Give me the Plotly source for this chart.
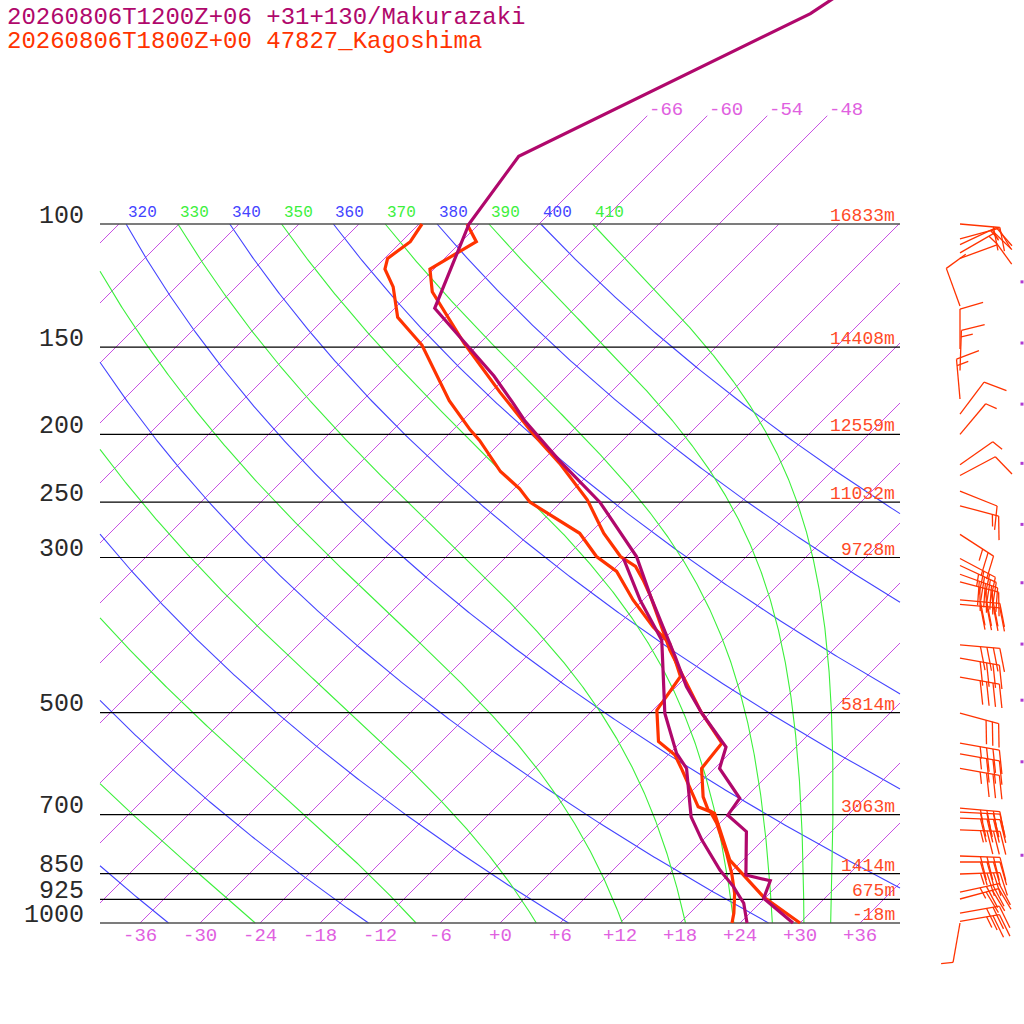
import numpy as np
import plotly.graph_objects as go

TITLE_MODEL = "20260806T1200Z+06 +31+130/Makurazaki"
TITLE_SONDE = "20260806T1800Z+00 47827_Kagoshima"

# standard levels and Kagoshima geopotential heights
STD_P = [100, 150, 200, 250, 300, 500, 700, 850, 925, 1000]
STD_Z = ["16833m", "14408m", "12559m", "11032m", "9728m", "5814m", "3063m", "1414m", "675m", "-18m"]

TEMP_TICKS = list(range(-36, 37, 6))
ISOTHERMS = list(range(-108, 37, 6))
TALL_ISOTHERMS = [-66, -60, -54, -48]      # these go on up to 70 hPa, with a label
DRY_THETA = list(range(240, 401, 20))      # blue
MOIST_THETA = list(range(250, 411, 20))    # green (pseudo adiabats)
THETA_LABELS = list(range(320, 411, 10))

# model profile (purple)
MOD_P = [1000, 922, 870, 854, 740, 701, 663, 601, 560, 501, 459, 416, 341, 299, 250, 218, 191, 180, 165, 145, 132, 100, 80, 50, 30]
MOD_T = [29.3, 23.9, 22.8, 19.8, 15.5, 12.0, 11.5, 6.5, 5.0, -0.8, -5.0, -9.1, -17.6, -23.0, -32.1, -40.3, -47.8, -50.8, -55.3, -62.6, -68.0, -73.0, -74.8, -59.9, -52.0]
MOD_TD_P = [1000, 937, 887, 840, 761, 705, 652, 601, 572, 501, 421, 394, 345, 301]
MOD_TD = [24.7, 22.4, 19.7, 16.7, 11.9, 8.5, 5.9, 3.2, 0.7, -4.5, -10.0, -12.1, -18.3, -24.1]

# radiosonde (orange)
OBS_P = [1000, 917, 813, 728, 697, 689, 660, 601, 553, 499, 407, 341, 323, 309, 299, 277, 248, 220, 200, 191, 174, 148, 136, 125, 116, 106, 100]
OBS_T = [30.0, 23.7, 16.7, 12.2, 10.5, 9.5, 7.7, 4.7, 4.2, -1.0, -10.3, -17.6, -20.0, -22.1, -24.6, -28.6, -33.6, -40.0, -45.5, -48.0, -53.1, -61.6, -65.8, -69.9, -72.4, -70.5, -73.2]
OBS_TD_P = [1000, 968, 907, 849, 795, 720, 693, 682, 604, 575, 550, 496, 444, 398, 377, 345, 314, 299, 277, 250, 239, 226, 204, 197, 179, 149, 136, 123, 116, 112, 106, 100]
OBS_TD = [23.2, 22.4, 20.5, 18.2, 15.7, 11.7, 9.9, 8.2, 2.9, 0.7, -2.3, -5.6, -6.6, -11.0, -14.3, -19.0, -23.5, -27.0, -31.0, -39.1, -41.5, -45.1, -50.3, -52.3, -57.3, -65.6, -70.8, -74.3, -76.9, -77.7, -77.1, -77.7]

# radiosonde winds (knots)
WIND_P = [100, 105, 107, 110, 112, 131, 151, 162, 178, 187, 200, 221, 229, 241, 253, 278, 301, 308, 317, 325,
          345, 350, 400, 418, 445, 501, 553, 573, 601, 685, 694, 708, 736, 802, 818, 851, 903, 924, 968, 995, 1000]
WIND_DIR = [95, 75, 65, 60, 70, 340, 0, 2, 355, 37, 40, 55, 62, 112, 105, 123, 118, 115, 110, 105,
            95, 95, 95, 100, 100, 105, 100, 100, 100, 95, 93, 92, 92, 92, 90, 88, 78, 75, 80, 80, 190]
WIND_KT = [20, 15, 15, 15, 10, 10, 10, 15, 15, 10, 5, 5, 10, 10, 15, 25, 30, 35, 40, 40,
           40, 40, 40, 40, 40, 30, 35, 35, 35, 35, 40, 40, 35, 40, 40, 35, 35, 30, 30, 25, 5]

# model wind levels, only their roots show at the right edge
MOD_WIND_P = [121, 148, 181, 220, 269, 326, 399, 480, 588, 800]

# page geometry: 10 px per degC, 699 px per decade of pressure
PX_DEG = 10.0
PX_DEC = 699.0
X0_PX = 500.0
Y1000_PX = 923.0
SKEW = PX_DEC / PX_DEG
X_LEFT, X_RIGHT = -40.0, 40.0
W = H = 1024

FONT = "Liberation Mono"
PURPLE = "#b0086c"
ORANGE = "#ff3300"
ORANGE_TXT = "#ff4a26"
ISO_COL = "#c850e4"
ISO_TXT = "#e060e0"
BLUE = "#4444ff"
GREEN = "#3cf03c"

RD, CP, LV, EPS = 287.04, 1005.7, 2.501e6, 0.622
KAPPA = RD / CP


def skew_x(t, p):
    return np.asarray(t, float) + SKEW * np.log10(1000.0 / np.asarray(p, float))


def clip_line(xs, ps, lo=X_LEFT, hi=X_RIGHT):
    """Liang-Barsky style clip of a polyline to lo <= x <= hi (in log p)."""
    ls = np.log10(ps)
    out_x, out_p = [], []
    last = None
    for i in range(len(xs) - 1):
        x1, x2, l1, l2 = xs[i], xs[i + 1], ls[i], ls[i + 1]
        t0, t1 = 0.0, 1.0
        dx = x2 - x1
        if dx == 0:
            if x1 < lo or x1 > hi:
                continue
        else:
            ta, tb = (lo - x1) / dx, (hi - x1) / dx
            t0, t1 = max(t0, min(ta, tb)), min(t1, max(ta, tb))
            if t0 >= t1:
                continue
        a = (x1 + t0 * dx, 10 ** (l1 + t0 * (l2 - l1)))
        b = (x1 + t1 * dx, 10 ** (l1 + t1 * (l2 - l1)))
        if last is None or abs(last[0] - a[0]) > 1e-9 or abs(last[1] - a[1]) > 1e-9:
            if out_x:
                out_x.append(None)
                out_p.append(None)
            out_x.append(a[0])
            out_p.append(a[1])
        out_x.append(b[0])
        out_p.append(b[1])
        last = b
    if out_x:
        out_x.append(None)
        out_p.append(None)
    return out_x, out_p


def moist_rate(t_k, p):
    es = 6.112 * np.exp(17.67 * (t_k - 273.15) / (t_k - 29.65))
    rs = EPS * es / (p - es)
    return (RD * t_k + LV * rs) / (CP + LV * LV * rs * EPS / (RD * t_k * t_k))


def pseudo_adiabat(theta, levels):
    t = theta * (levels[0] / 1000.0) ** KAPPA
    out = [t]
    for p1, p2 in zip(levels[:-1], levels[1:]):
        h = np.log(p2) - np.log(p1)
        pm = np.exp(np.log(p1) + h / 2)
        k1 = moist_rate(t, p1)
        k2 = moist_rate(t + h / 2 * k1, pm)
        k3 = moist_rate(t + h / 2 * k2, pm)
        k4 = moist_rate(t + h * k3, p2)
        t = t + h / 6 * (k1 + 2 * k2 + 2 * k3 + k4)
        out.append(t)
    return np.array(out) - 273.15


def px_to_data(px, py_off, p_ref):
    # px: absolute page x, py_off: page-y offset (down is positive) from the level p_ref
    return (px - X0_PX) / PX_DEG, p_ref * 10 ** (py_off / PX_DEC)


def barb(p, wdir, kt, base_px=960.0, staff=40.0, gap=6.5, full=24.0):
    d = np.deg2rad(wdir)
    u = np.array([np.sin(d), -np.cos(d)])      # towards where the wind comes from (page coords)
    v = np.array([np.cos(d), np.sin(d)])       # feather side
    tilt = np.deg2rad(16)
    f = np.cos(tilt) * v + np.sin(tilt) * u
    segs = [(np.zeros(2), u * staff)]
    spd = int(round(kt / 5.0)) * 5
    n50, rem = divmod(spd, 50)
    n10, rem = divmod(rem, 10)
    n5 = rem // 5
    pos = staff
    for _ in range(n50):
        a = u * pos
        b = u * (pos - gap)
        segs += [(a, a + f * full), (a + f * full, b)]
        pos -= gap * 1.5
    for _ in range(n10):
        a = u * pos
        segs.append((a, a + f * full))
        pos -= gap
    for _ in range(n5):
        a = u * pos
        segs.append((a, a + f * full * 0.5))
    xs, ps = [], []
    for a, b in segs:
        for pt in (a, b):
            xx, pp = px_to_data(base_px + pt[0], pt[1], p)
            xs.append(xx)
            ps.append(pp)
        xs.append(None)
        ps.append(None)
    return xs, ps


fig = go.Figure()

# isotherms
iso_x, iso_p = [], []
for t in ISOTHERMS:
    p_top = 70.0 if t in TALL_ISOTHERMS else 100.0
    ps = np.array([1000.0, p_top])
    cx, cp = clip_line(skew_x([t, t], ps), ps)
    iso_x += cx
    iso_p += cp
fig.add_trace(go.Scatter(x=iso_x, y=iso_p, mode="lines", line=dict(color=ISO_COL, width=1)))

levels = np.logspace(2, 3, 500)
for theta in DRY_THETA:
    tc = theta * (levels / 1000.0) ** KAPPA - 273.15
    cx, cp = clip_line(skew_x(tc, levels), levels)
    fig.add_trace(go.Scatter(x=cx, y=cp, mode="lines", line=dict(color=BLUE, width=1.1)))
for theta in MOIST_THETA:
    tc = pseudo_adiabat(theta, levels)
    cx, cp = clip_line(skew_x(tc, levels), levels)
    fig.add_trace(go.Scatter(x=cx, y=cp, mode="lines", line=dict(color=GREEN, width=1.1)))

# pressure lines
for p in STD_P:
    edge = p in (100, 1000)
    fig.add_trace(go.Scatter(x=[X_LEFT, X_RIGHT], y=[p, p], mode="lines",
                             line=dict(color="#505050" if edge else "black", width=1.6 if edge else 1.2)))

# profiles
for pp, tt, col in [(OBS_TD_P, OBS_TD, ORANGE), (OBS_P, OBS_T, ORANGE),
                    (MOD_TD_P, MOD_TD, PURPLE), (MOD_P, MOD_T, PURPLE)]:
    fig.add_trace(go.Scatter(x=skew_x(tt, pp), y=pp, mode="lines",
                             line=dict(color=col, width=3.2)))

# wind barbs
bx, bp = [], []
for p, d, s in zip(WIND_P, WIND_DIR, WIND_KT):
    xs, ps = barb(p, d, s)
    bx += xs
    bp += ps
fig.add_trace(go.Scatter(x=bx, y=bp, mode="lines", line=dict(color=ORANGE, width=1.3)))

mx = [px_to_data(1022.0, 0, p)[0] for p in MOD_WIND_P]
fig.add_trace(go.Scatter(x=mx, y=MOD_WIND_P, mode="markers",
                         marker=dict(color="#b03ad0", size=3, symbol="square")))


def ly(p, up_px=0.0):
    # log10 position of a label lifted up_px page pixels above level p
    return np.log10(p) - up_px / PX_DEC


ann = []
for p in STD_P:
    ann.append(dict(x=(86 - X0_PX) / PX_DEG, y=ly(p, 8), xref="x", yref="y", text=str(p),
                    xanchor="right", yanchor="middle", showarrow=False,
                    font=dict(family=FONT, size=25, color="#2a2a2a")))
for p, z in zip(STD_P, STD_Z):
    ann.append(dict(x=(897 - X0_PX) / PX_DEG, y=ly(p, 8), xref="x", yref="y", text=z,
                    xanchor="right", yanchor="middle", showarrow=False,
                    font=dict(family=FONT, size=18, color=ORANGE_TXT)))
for t in TEMP_TICKS:
    ann.append(dict(x=t, y=ly(1000, -13), xref="x", yref="y", text=("%+d" % t),
                    xanchor="center", yanchor="middle", showarrow=False,
                    font=dict(family=FONT, size=19, color=ISO_TXT)))
for th in THETA_LABELS:
    xl = th * 0.1 ** KAPPA - 273.15 + SKEW
    ann.append(dict(x=xl, y=ly(100, 11.5), xref="x", yref="y", text=str(th),
                    xanchor="left", yanchor="middle", showarrow=False,
                    font=dict(family=FONT, size=16, color=BLUE if th % 20 == 0 else GREEN)))
for t in TALL_ISOTHERMS:
    ann.append(dict(x=float(skew_x(t, 70.0)), y=ly(70, 5.5), xref="x", yref="y", text=str(t),
                    xanchor="left", yanchor="middle", showarrow=False,
                    font=dict(family=FONT, size=19, color=ISO_TXT)))
for i, (txt, col) in enumerate([(TITLE_MODEL, PURPLE), (TITLE_SONDE, ORANGE)]):
    ann.append(dict(x=5 / W, y=1 - (17 + 24 * i) / H, xref="paper", yref="paper", text=txt,
                    xanchor="left", yanchor="middle", showarrow=False,
                    font=dict(family=FONT, size=24, color=col)))

fig.update_layout(
    width=W, height=H,
    margin=dict(l=0, r=0, t=0, b=0),
    paper_bgcolor="white", plot_bgcolor="white",
    showlegend=False, hovermode=False,
    xaxis=dict(range=[-X0_PX / PX_DEG, (W - X0_PX) / PX_DEG], visible=False, fixedrange=True),
    yaxis=dict(type="log", range=[3 + (H - Y1000_PX) / PX_DEC, 3 - Y1000_PX / PX_DEC],
               visible=False, fixedrange=True),
    annotations=ann,
)

fig.write_html("out.html", config={"displayModeBar": False},
               post_script="document.body.style.margin='0';")
